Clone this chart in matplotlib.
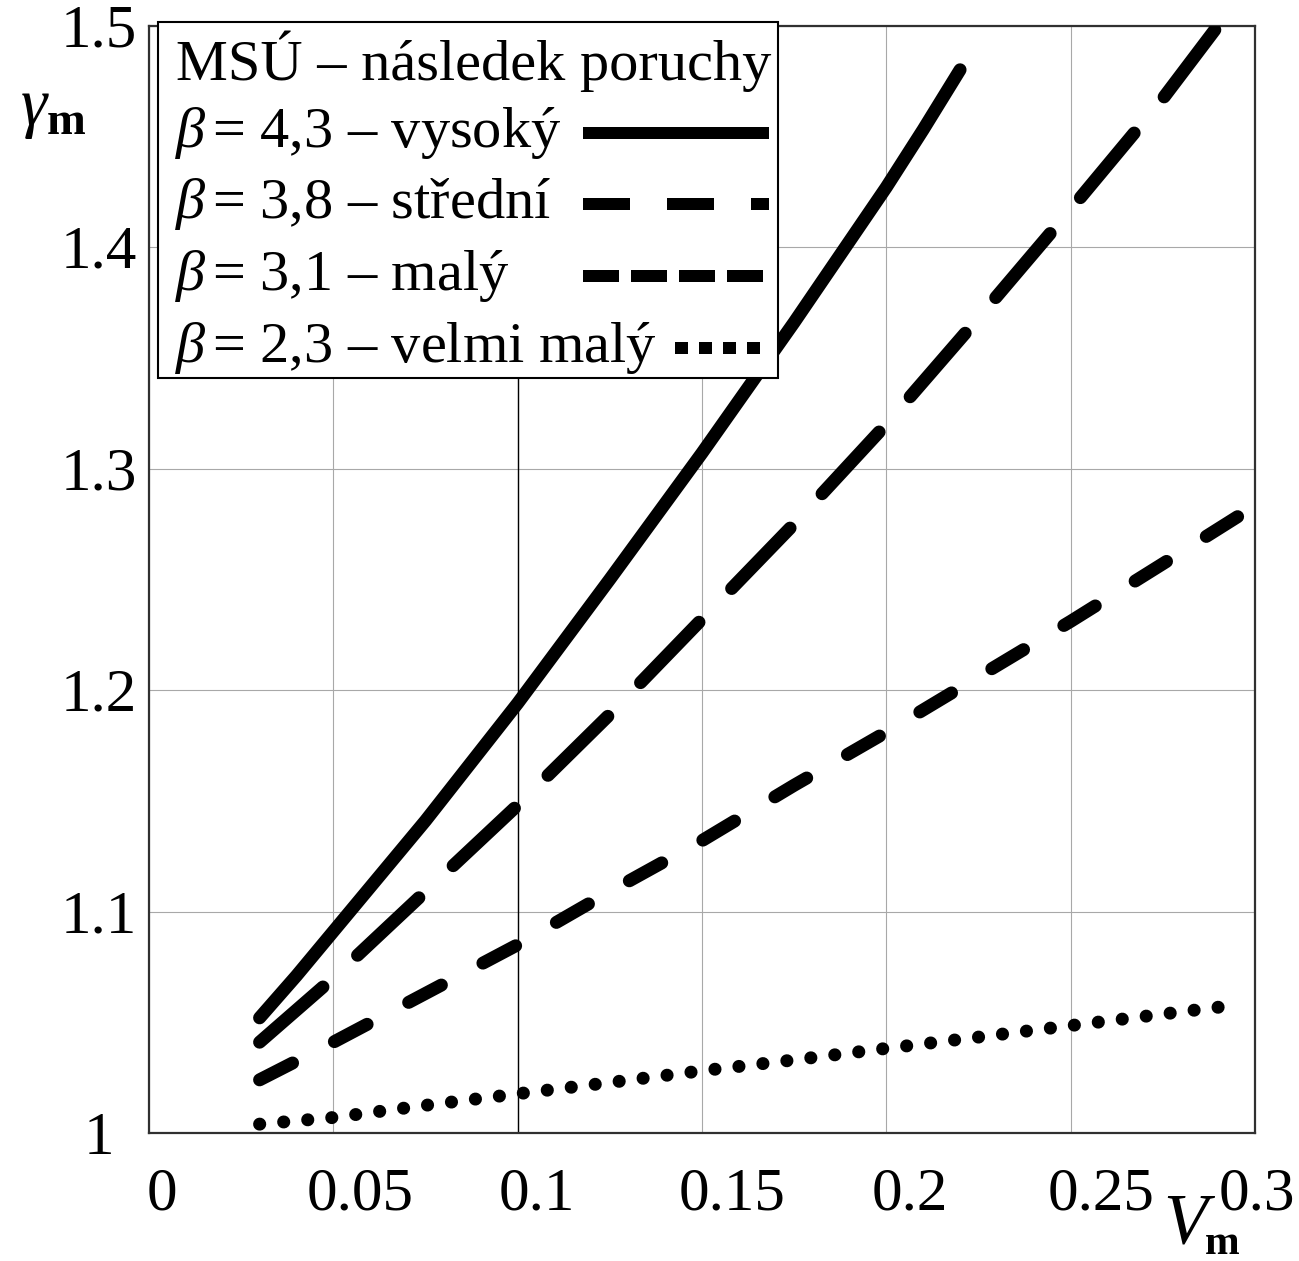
import matplotlib
matplotlib.use("Agg")
import matplotlib.pyplot as plt
import matplotlib.transforms as mtrans
from matplotlib.lines import Line2D
from matplotlib.patches import Rectangle

# ---------------- DATA ----------------
V_VYSOKY = [0.03, 0.04, 0.05, 0.075, 0.10, 0.125, 0.15, 0.175, 0.20, 0.21, 0.22]
G_VYSOKY = [1.052, 1.071, 1.091, 1.141, 1.194, 1.250, 1.307, 1.366, 1.427, 1.453, 1.480]

V_STREDNI = [0.03, 0.05, 0.075, 0.10, 0.125, 0.15, 0.175, 0.20, 0.225, 0.25, 0.275, 0.29]
G_STREDNI = [1.041, 1.070, 1.109, 1.148, 1.189, 1.232, 1.275, 1.320, 1.368, 1.417, 1.467, 1.500]

V_MALY = [0.03, 0.05, 0.075, 0.10, 0.125, 0.15, 0.175, 0.20, 0.225, 0.25, 0.275, 0.296]
G_MALY = [1.024, 1.041, 1.063, 1.085, 1.109, 1.132, 1.157, 1.181, 1.206, 1.231, 1.257, 1.279]

V_VELMI = [0.03, 0.05, 0.075, 0.10, 0.125, 0.15, 0.175, 0.20, 0.225, 0.25, 0.275, 0.296]
G_VELMI = [1.004, 1.007, 1.0125, 1.0177, 1.0228, 1.0281, 1.0330, 1.0382, 1.0433, 1.0485, 1.0537, 1.058]

LEGEND_TITLE = "MSÚ – následek poruchy"
LABELS = [r"$\beta\,$= 4,3 – vysoký",
          r"$\beta\,$= 3,8 – střední",
          r"$\beta\,$= 3,1 – malý",
          r"$\beta\,$= 2,3 – velmi malý"]

X_TICKS = [0, 0.05, 0.1, 0.15, 0.2, 0.25, 0.3]
X_TICK_LABELS = ["0", "0.05", "0.1", "0.15", "0.2", "0.25", "0.3"]
Y_TICKS = [1.0, 1.1, 1.2, 1.3, 1.4, 1.5]
Y_TICK_LABELS = ["1", "1.1", "1.2", "1.3", "1.4", "1.5"]

# ---------------- STYLE ----------------
W, H, DPI = 1299, 1261, 100
PT = 72.0 / DPI          # points per pixel
AX_L, AX_R, AX_T, AX_B = 149, 1255, 25.5, 1133

plt.rcParams['font.family'] = ['Liberation Serif', 'DejaVu Serif']
plt.rcParams['mathtext.fontset'] = 'custom'
plt.rcParams['mathtext.rm'] = 'Liberation Serif'
plt.rcParams['mathtext.it'] = 'Liberation Serif:italic'
plt.rcParams['mathtext.bf'] = 'Liberation Serif:bold'
plt.rcParams['lines.scale_dashes'] = False

LW = 13 * PT
PLOT_DASHES = [None, (84 * PT, 47 * PT), (37 * PT, 47 * PT), (0.1, 24 * PT)]
LEG_DASHES = [None, (47 * PT, 37 * PT), (36 * PT, 12 * PT), (13 * PT, 11 * PT)]


def fx(px):
    return px / W


def fy(py):
    return 1 - py / H


fig = plt.figure(figsize=(W / DPI, H / DPI), dpi=DPI)
ax = fig.add_axes([fx(AX_L), fy(AX_B), (AX_R - AX_L) / W, (AX_B - AX_T) / H])

series = [(V_VYSOKY, G_VYSOKY), (V_STREDNI, G_STREDNI), (V_MALY, G_MALY), (V_VELMI, G_VELMI)]
for (v, g), d in zip(series, PLOT_DASHES):
    line, = ax.plot(v, g, color='black', lw=LW, solid_capstyle='round',
                    dash_capstyle='round', solid_joinstyle='round', zorder=3)
    if d is not None:
        line.set_dashes(d)

ax.set_xlim(0, 0.3)
ax.set_ylim(1.0, 1.5)
ax.set_xticks(X_TICKS)
ax.set_yticks(Y_TICKS)
ax.grid(True, color='#a8a8a8', lw=0.8)
ax.axvline(0.1, color='black', lw=1.0, zorder=2)
ax.tick_params(length=0, labelbottom=False, labelleft=False)
for s in ax.spines.values():
    s.set_color('#303030')
    s.set_linewidth(1.6)

# tick labels (placed like in the source, slightly shifted)
x_off = [13, 27, 19, 30, 23, 30, 2]
tr_x = mtrans.blended_transform_factory(ax.transData, fig.transFigure)
for t, lab, o in zip(X_TICKS, X_TICK_LABELS, x_off):
    ax.text(t, fy(1195), lab, transform=tr_x + mtrans.ScaledTranslation(o / DPI, 0, fig.dpi_scale_trans),
            ha='center', va='center', fontsize=44, clip_on=False)
tr_y = mtrans.blended_transform_factory(fig.transFigure, ax.transData)
for t, lab in zip(Y_TICKS, Y_TICK_LABELS):
    ax.text(fx(99), t, lab, transform=tr_y + mtrans.ScaledTranslation(0, -6 / DPI, fig.dpi_scale_trans),
            ha='center', va='center', fontsize=44, clip_on=False)

# axis labels
fig.text(fx(20), fy(125), r"$\gamma_{\mathbf{m}}$", fontsize=48, ha='left', va='baseline')
fig.text(fx(1163), fy(1243), "V", fontsize=52, style='italic', ha='left', va='baseline')
fig.text(fx(1205), fy(1254), "m", fontsize=30, weight='bold', ha='left', va='baseline')

# ---------------- LEGEND (drawn by hand) ----------------
fig.add_artist(Rectangle((fx(158), fy(378)), (778 - 158) / W, (378 - 21.7) / H,
                         transform=fig.transFigure, facecolor='white',
                         edgecolor='black', lw=1.5, zorder=5))
fig.text(fx(176), fy(80), LEGEND_TITLE, fontsize=42, ha='left', va='baseline', zorder=6)

row_base = [147, 218, 290, 362]
handle_x0 = [583, 583, 583, 675]
for lab, b, d, x0 in zip(LABELS, row_base, LEG_DASHES, handle_x0):
    fig.text(fx(175), fy(b), lab, fontsize=42, ha='left', va='baseline', zorder=6)
    h = Line2D([fx(x0), fx(769)], [fy(b - 14), fy(b - 14)], transform=fig.transFigure,
               color='black', lw=12 * PT, solid_capstyle='butt', dash_capstyle='butt', zorder=6)
    if d is not None:
        h.set_dashes(d)
    fig.add_artist(h)

fig.savefig("out.png", dpi=DPI)
